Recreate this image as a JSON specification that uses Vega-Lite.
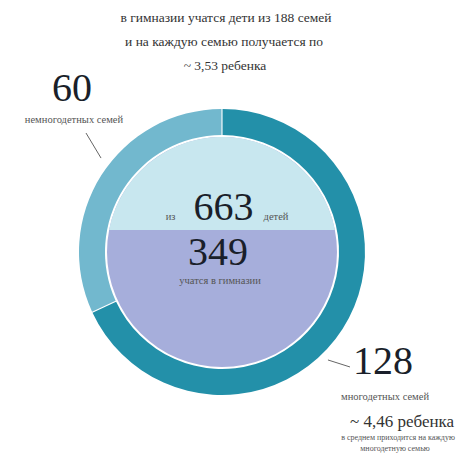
{
  "$schema": "https://vega.github.io/schema/vega-lite/v6.json",
  "width": 461,
  "height": 462,
  "autosize": {"type": "fit", "contains": "padding"},
  "padding": 0,
  "background": "white",
  "config": {"view": {"stroke": null}, "text": {"font": "Liberation Serif"}},
  "datasets": {
    "families": [
      {"group": "многодетные", "n": 128, "ord": 1},
      {"group": "немногодетные", "n": 60, "ord": 2}
    ],
    "centre": [{"x": 0, "y": 0}],
    "pointers": [
      {"x": -0.951, "y": 0.832, "x2": -0.846, "y2": 0.657},
      {"x": 0.741, "y": -0.755, "x2": 0.895, "y2": -0.804}
    ],
    "labels": [
      {"t": "в гимназии учатся дети из 188 семей", "x": 0.028, "y": 1.636, "role": "head"},
      {"t": "и на каждую семью получается по", "x": 0.014, "y": 1.469, "role": "head"},
      {"t": "~ 3,53 ребенка", "x": 0.021, "y": 1.301, "role": "head"},
      {"t": "60", "x": -1.049, "y": 1.143, "role": "big"},
      {"t": "663", "x": 0.01, "y": 0.311, "role": "big"},
      {"t": "349", "x": -0.028, "y": -0.004, "role": "big"},
      {"t": "128", "x": 1.126, "y": -0.769, "role": "big"},
      {"t": "немногодетных семей", "x": -1.035, "y": 0.923, "role": "small"},
      {"t": "учатся в гимназии", "x": -0.014, "y": -0.2, "role": "small"},
      {"t": "многодетных семей", "x": 1.14, "y": -1.014, "role": "small"},
      {"t": "из", "x": -0.36, "y": 0.245, "role": "small"},
      {"t": "детей", "x": 0.378, "y": 0.245, "role": "small"},
      {"t": "~ 4,46 ребенка", "x": 1.259, "y": -1.189, "role": "sub"},
      {"t": "в среднем приходится на каждую", "x": 1.231, "y": -1.301, "role": "note"},
      {"t": "многодетную семью", "x": 1.21, "y": -1.378, "role": "note"}
    ]
  },
  "layer": [
    {
      "data": {"name": "centre"},
      "mark": {"type": "point", "shape": "circle", "filled": true, "size": 52900, "color": "#a6aedb", "opacity": 1, "strokeWidth": 0},
      "encoding": {
        "x": {"field": "x", "type": "quantitative", "scale": {"domain": [-1.5524, 1.6713], "nice": false, "zero": false}, "axis": null},
        "y": {"field": "y", "type": "quantitative", "scale": {"domain": [-1.4685, 1.7622], "nice": false, "zero": false}, "axis": null}
      }
    },
    {
      "data": {"name": "centre"},
      "mark": {"type": "point", "shape": "M -0.9815 -0.191 A 1 1 0 0 1 0.9815 -0.191 Z", "filled": true, "size": 52900, "color": "#c8e7ef", "opacity": 1, "strokeWidth": 0},
      "encoding": {
        "x": {"field": "x", "type": "quantitative"},
        "y": {"field": "y", "type": "quantitative"}
      }
    },
    {
      "data": {"name": "families"},
      "mark": {"type": "arc", "radius": 143, "radius2": 117, "padAngle": 0.006, "x": {"expr": "scale('x', 0)"}, "y": {"expr": "scale('y', 0)"}},
      "encoding": {
        "theta": {"field": "n", "type": "quantitative", "stack": true},
        "order": {"field": "ord", "type": "quantitative"},
        "color": {"field": "group", "type": "nominal", "scale": {"domain": ["многодетные", "немногодетные"], "range": ["#2390a9", "#72b8ce"]}, "legend": null}
      }
    },
    {
      "data": {"name": "pointers"},
      "mark": {"type": "rule", "color": "#666666", "strokeWidth": 1},
      "encoding": {
        "x": {"field": "x", "type": "quantitative"},
        "y": {"field": "y", "type": "quantitative"},
        "x2": {"field": "x2"},
        "y2": {"field": "y2"}
      }
    },
    {
      "data": {"name": "labels"},
      "transform": [{"filter": "datum.role === 'head'"}],
      "mark": {"type": "text", "fontSize": 13.5, "color": "#333333", "baseline": "middle", "align": "center"},
      "encoding": {"x": {"field": "x", "type": "quantitative"}, "y": {"field": "y", "type": "quantitative"}, "text": {"field": "t"}}
    },
    {
      "data": {"name": "labels"},
      "transform": [{"filter": "datum.role === 'big'"}],
      "mark": {"type": "text", "fontSize": 40, "color": "#1a1f2a", "baseline": "middle", "align": "center"},
      "encoding": {"x": {"field": "x", "type": "quantitative"}, "y": {"field": "y", "type": "quantitative"}, "text": {"field": "t"}}
    },
    {
      "data": {"name": "labels"},
      "transform": [{"filter": "datum.role === 'small'"}],
      "mark": {"type": "text", "fontSize": 10.5, "letterSpacing": 1.1, "color": "#555555", "baseline": "middle", "align": "center"},
      "encoding": {"x": {"field": "x", "type": "quantitative"}, "y": {"field": "y", "type": "quantitative"}, "text": {"field": "t"}}
    },
    {
      "data": {"name": "labels"},
      "transform": [{"filter": "datum.role === 'sub'"}],
      "mark": {"type": "text", "fontSize": 17, "color": "#333333", "baseline": "middle", "align": "center"},
      "encoding": {"x": {"field": "x", "type": "quantitative"}, "y": {"field": "y", "type": "quantitative"}, "text": {"field": "t"}}
    },
    {
      "data": {"name": "labels"},
      "transform": [{"filter": "datum.role === 'note'"}],
      "mark": {"type": "text", "fontSize": 8, "color": "#555555", "baseline": "middle", "align": "center"},
      "encoding": {"x": {"field": "x", "type": "quantitative"}, "y": {"field": "y", "type": "quantitative"}, "text": {"field": "t"}}
    }
  ]
}
